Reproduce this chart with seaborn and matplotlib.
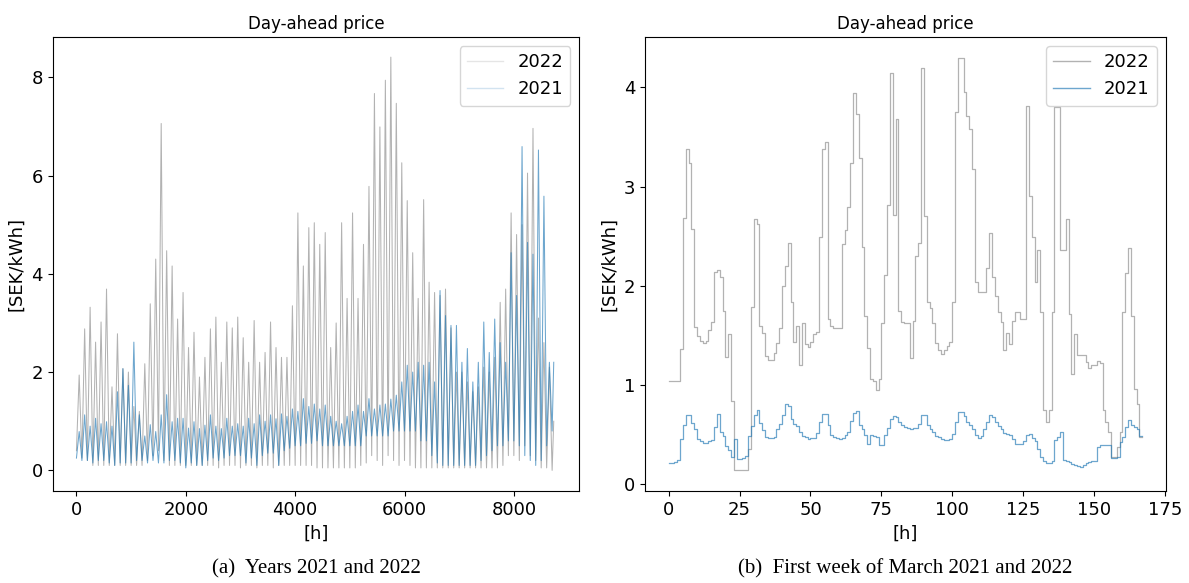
import numpy as np
import pandas as pd
import matplotlib
matplotlib.use("Agg")
import matplotlib.pyplot as plt
import seaborn as sns

# ---------------- data: full years (100-hour bins, low / high envelope) ----------------
bin_size = 100
n_hours = 8760
y2022_hi = [1.94, 2.88, 3.32, 2.61, 3.02, 3.69, 1.70, 2.78, 2.07, 2.00,
            1.30, 1.20, 2.17, 3.39, 4.30, 7.06, 4.47, 4.16, 3.08, 3.62,
            2.50, 2.81, 1.90, 2.30, 2.88, 3.12, 2.20, 3.02, 2.90, 3.12,
            2.70, 2.20, 3.05, 2.20, 2.40, 3.02, 2.50, 2.30, 2.30, 3.35,
            5.24, 4.16, 4.94, 5.04, 4.60, 4.84, 2.50, 3.00, 5.04, 3.50,
            5.24, 3.50, 4.60, 5.78, 7.67, 6.99, 7.94, 8.41, 7.47, 6.26,
            5.49, 4.43, 3.50, 5.51, 3.83, 3.62, 3.56, 3.69, 2.90, 2.00,
            2.00, 1.80, 1.60, 1.70, 2.10, 2.00, 2.30, 3.42, 3.69, 5.24,
            4.80, 5.00, 6.05, 6.96, 3.10, 2.60, 2.10, 1.00]
y2022_lo = [0.40, 0.25, 0.20, 0.10, 0.10, 0.10, 0.10, 0.10, 0.10, 0.10,
            0.10, 0.10, 0.10, 0.20, 0.30, 0.40, 0.20, 0.10, 0.10, 0.10,
            0.10, 0.10, 0.10, 0.10, 0.10, 0.10, 0.05, 0.10, 0.10, 0.10,
            0.05, 0.10, 0.10, 0.05, 0.10, 0.10, 0.05, 0.10, 0.10, 0.10,
            0.10, 0.10, 0.10, 0.10, 0.05, 0.05, 0.05, 0.05, 0.05, 0.05,
            0.05, 0.05, 0.10, 0.15, 0.30, 0.20, 0.10, 0.30, 0.20, 0.10,
            0.20, 0.10, 0.05, 0.05, 0.05, 0.05, 0.05, 0.05, 0.05, 0.05,
            0.05, 0.05, 0.05, 0.05, 0.05, 0.05, 0.05, 0.05, 0.10, 0.30,
            0.30, 0.20, 0.50, 0.30, 0.20, 0.05, 0.05, 0.00]
y2021_hi = [0.79, 1.13, 0.90, 1.06, 0.95, 0.99, 0.90, 1.60, 2.07, 1.73,
            2.61, 1.13, 0.70, 0.93, 0.79, 1.13, 1.54, 0.99, 1.06, 1.06,
            0.86, 0.99, 0.85, 0.92, 1.13, 0.90, 0.85, 1.06, 0.90, 0.95,
            0.90, 1.06, 0.95, 1.13, 1.00, 1.13, 1.05, 1.15, 1.10, 1.25,
            1.20, 1.46, 1.30, 1.35, 1.25, 1.33, 1.10, 1.00, 0.95, 1.10,
            1.20, 1.33, 1.20, 1.46, 1.25, 1.33, 1.35, 1.45, 1.53, 1.80,
            2.14, 2.00, 2.20, 2.14, 2.20, 1.80, 3.66, 3.15, 2.95, 2.95,
            2.20, 2.48, 1.80, 2.20, 3.02, 2.40, 3.08, 2.60, 2.20, 4.43,
            3.56, 6.59, 4.64, 4.40, 6.52, 5.58, 2.20, 2.20]
y2021_lo = [0.25, 0.20, 0.20, 0.15, 0.20, 0.20, 0.15, 0.10, 0.15, 0.15,
            0.15, 0.20, 0.20, 0.15, 0.20, 0.15, 0.15, 0.20, 0.20, 0.15,
            0.05, 0.15, 0.10, 0.10, 0.20, 0.25, 0.20, 0.25, 0.30, 0.30,
            0.30, 0.15, 0.25, 0.10, 0.30, 0.35, 0.35, 0.10, 0.40, 0.45,
            0.50, 0.50, 0.55, 0.55, 0.60, 0.50, 0.50, 0.50, 0.50, 0.50,
            0.50, 0.50, 0.50, 0.70, 0.70, 0.70, 0.70, 0.70, 0.80, 0.80,
            0.80, 0.80, 0.80, 0.60, 0.60, 0.30, 0.15, 0.10, 0.10, 0.10,
            0.10, 0.10, 0.10, 0.10, 0.20, 0.30, 0.40, 0.50, 0.50, 0.60,
            0.60, 0.50, 0.30, 0.20, 0.10, 0.20, 0.50, 0.80]

# ---------------- data: first week of March (hourly) ----------------
week2022 = [1.04, 1.04, 1.04, 1.04, 1.36, 2.68, 3.38, 3.24, 2.57, 1.58, 1.49, 1.44,
            1.42, 1.44, 1.55, 1.64, 2.14, 2.16, 2.09, 1.75, 1.28, 1.51, 0.84, 0.14,
            0.14, 0.14, 0.14, 0.14, 0.36, 1.79, 2.67, 2.62, 1.60, 1.52, 1.29, 1.25,
            1.25, 1.32, 1.42, 1.57, 2.00, 2.20, 2.43, 1.84, 1.43, 1.60, 1.20, 1.63,
            1.41, 1.38, 1.43, 1.51, 1.53, 2.49, 3.38, 3.45, 1.67, 1.60, 1.57, 1.57,
            1.57, 2.42, 2.56, 2.79, 3.24, 3.94, 3.73, 3.29, 2.39, 1.70, 1.37, 1.06,
            1.04, 0.95, 1.06, 1.63, 2.11, 2.81, 4.15, 2.71, 3.68, 1.75, 1.64, 1.63,
            1.63, 1.27, 1.65, 2.30, 2.43, 4.20, 2.70, 1.84, 1.78, 1.63, 1.42, 1.35,
            1.31, 1.35, 1.39, 1.43, 1.84, 3.75, 4.30, 4.30, 3.95, 3.71, 3.58, 3.18,
            2.04, 1.94, 1.94, 1.94, 2.18, 2.53, 2.09, 1.90, 1.74, 1.64, 1.35, 1.52,
            1.41, 1.65, 1.74, 1.74, 1.67, 1.67, 3.81, 2.91, 2.49, 2.04, 2.36, 1.74,
            0.75, 0.63, 0.75, 1.74, 3.80, 3.80, 2.36, 2.36, 2.67, 1.72, 1.11, 1.51,
            1.30, 1.30, 1.30, 1.23, 1.17, 1.20, 1.20, 1.24, 1.22, 0.75, 0.63, 0.53,
            0.27, 0.27, 0.38, 0.53, 1.74, 2.13, 2.38, 1.70, 0.96, 0.81, 0.48, 0.48]
week2021 = [0.21, 0.21, 0.22, 0.24, 0.46, 0.60, 0.70, 0.70, 0.62, 0.56, 0.46, 0.44,
            0.42, 0.42, 0.44, 0.45, 0.58, 0.71, 0.53, 0.49, 0.39, 0.35, 0.27, 0.46,
            0.25, 0.25, 0.26, 0.28, 0.49, 0.59, 0.70, 0.75, 0.62, 0.55, 0.48, 0.47,
            0.47, 0.48, 0.56, 0.61, 0.70, 0.81, 0.79, 0.66, 0.61, 0.59, 0.53, 0.49,
            0.48, 0.46, 0.47, 0.47, 0.52, 0.63, 0.71, 0.71, 0.60, 0.50, 0.48, 0.47,
            0.46, 0.47, 0.50, 0.53, 0.64, 0.72, 0.74, 0.60, 0.56, 0.50, 0.41, 0.50,
            0.49, 0.48, 0.40, 0.40, 0.50, 0.57, 0.66, 0.69, 0.68, 0.63, 0.60, 0.58,
            0.57, 0.56, 0.57, 0.57, 0.61, 0.70, 0.70, 0.60, 0.56, 0.53, 0.49, 0.48,
            0.46, 0.45, 0.45, 0.46, 0.51, 0.63, 0.73, 0.73, 0.69, 0.63, 0.60, 0.56,
            0.50, 0.47, 0.49, 0.56, 0.63, 0.70, 0.68, 0.63, 0.59, 0.56, 0.52, 0.51,
            0.50, 0.46, 0.41, 0.41, 0.41, 0.44, 0.50, 0.51, 0.47, 0.44, 0.36, 0.27,
            0.23, 0.21, 0.21, 0.23, 0.45, 0.48, 0.53, 0.24, 0.23, 0.22, 0.20, 0.19,
            0.18, 0.17, 0.19, 0.21, 0.22, 0.23, 0.23, 0.38, 0.40, 0.40, 0.40, 0.40,
            0.26, 0.26, 0.27, 0.43, 0.48, 0.58, 0.65, 0.60, 0.58, 0.56, 0.49, 0.49]


def envelope_frame(lo, hi):
    xs, ys = [], []
    for k, (a, b) in enumerate(zip(lo, hi)):
        start = k * bin_size
        end = min(start + bin_size, n_hours - 1)
        xs += [start, start + (end - start) / 2]
        ys += [a, b]
    return pd.DataFrame({"h": xs, "price": ys})


df22 = envelope_frame(y2022_lo, y2022_hi)
df21 = envelope_frame(y2021_lo, y2021_hi)
wk = pd.DataFrame({"h": np.arange(len(week2022)), "p2022": week2022, "p2021": week2021})

W, H = 1189, 583
fig = plt.figure(figsize=(W / 100, H / 100), dpi=100)
ax1 = fig.add_axes([52.5 / W, 1 - 491 / H, (579.3 - 52.5) / W, (491 - 37) / H])
ax2 = fig.add_axes([645 / W, 1 - 491 / H, (1166 - 645) / W, (491 - 37) / H])

GREY = "grey"
BLUE = "tab:blue"

# left panel
sns.lineplot(data=df22, x="h", y="price", ax=ax1, color=GREY, lw=0.75, alpha=0.6,
             estimator=None, sort=False, label="2022")
sns.lineplot(data=df21, x="h", y="price", ax=ax1, color=BLUE, lw=0.75, alpha=0.65,
             estimator=None, sort=False, label="2021")
ax1.set_xlim(-438, 9197)
ax1.set_ylim(-0.42, 8.82)
ax1.set_xticks([0, 2000, 4000, 6000, 8000])
ax1.set_yticks([0, 2, 4, 6, 8])

# right panel
sns.lineplot(data=wk, x="h", y="p2022", ax=ax2, color=GREY, lw=0.9, alpha=0.6,
             estimator=None, drawstyle="steps-post", label="2022")
sns.lineplot(data=wk, x="h", y="p2021", ax=ax2, color=BLUE, lw=0.9, alpha=0.65,
             estimator=None, drawstyle="steps-post", label="2021")
ax2.set_xlim(-8.35, 175.35)
ax2.set_ylim(-0.068, 4.508)
ax2.set_xticks([0, 25, 50, 75, 100, 125, 150, 175])
ax2.set_yticks([0, 1, 2, 3, 4])

for ax in (ax1, ax2):
    ax.set_title("Day-ahead price", fontsize=12)
    ax.set_xlabel("[h]", fontsize=13)
    ax.set_ylabel("[SEK/kWh]", fontsize=13)
    ax.tick_params(labelsize=13)
    for s in ax.spines.values():
        s.set_visible(True)
        s.set_color("black")
        s.set_linewidth(0.8)

leg1 = ax1.legend(loc="upper right", fontsize=13)
for hnd in leg1.legend_handles:
    hnd.set_alpha(0.2)
    hnd.set_linewidth(1.0)
leg2 = ax2.legend(loc="upper right", fontsize=13)
for hnd in leg2.legend_handles:
    hnd.set_linewidth(1.0)

fig.text(316 / W, 1 - 569 / H, "(a)  Years 2021 and 2022", ha="center", va="center",
         fontsize=15, family="Liberation Serif")
fig.text(905 / W, 1 - 569 / H, "(b)  First week of March 2021 and 2022", ha="center",
         va="center", fontsize=15, family="Liberation Serif")

fig.savefig("out.png", dpi=100)
